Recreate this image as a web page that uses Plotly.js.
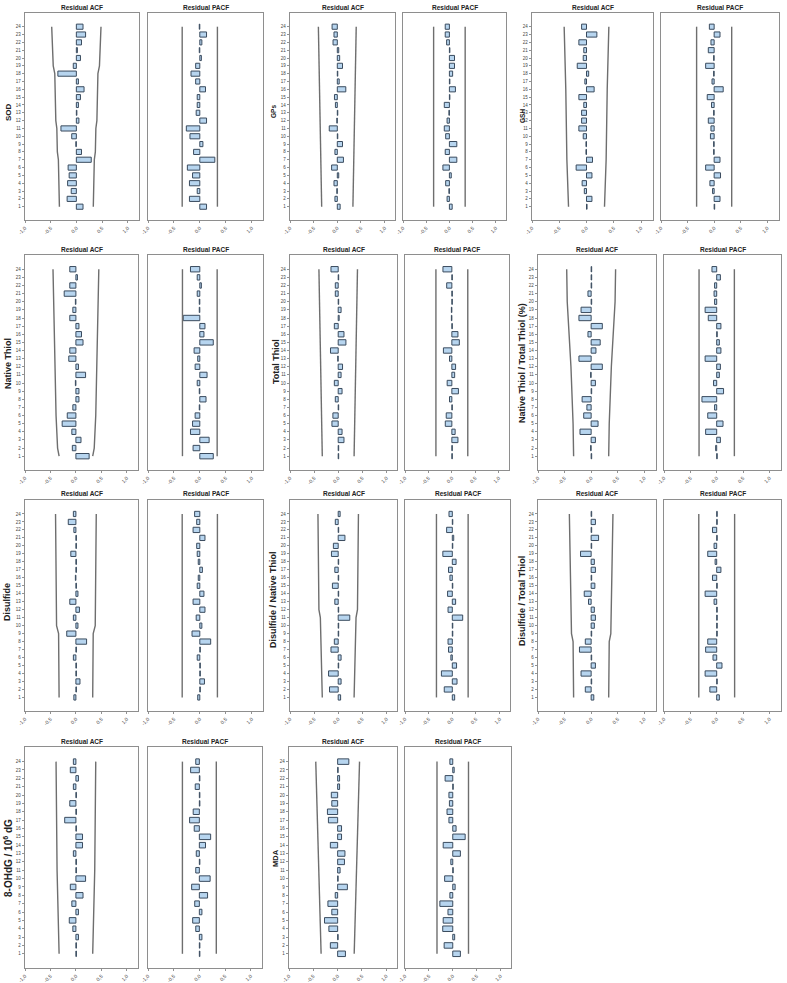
<!DOCTYPE html>
<html>
<head>
<meta charset="utf-8">
<script src="https://cdn.plot.ly/plotly-3.0.1.min.js"></script>
<style>
html,body{margin:0;padding:0;background:#fff;}
#chart{width:787px;height:983px;}
</style>
</head>
<body>
<div id="chart"></div>
<script>
// ---------------- DATA (lag 1 .. 24) ----------------
const lags = [1,2,3,4,5,6,7,8,9,10,11,12,13,14,15,16,17,18,19,20,21,22,23,24];
const lagLabels = ['1','2','3','4','5','6','7','8','9','10','11','12','13','14','15','16','17','18','19','20','21','22','23','24'];
const xTickVals = [-1, -0.5, 0, 0.5, 1];
const xTickText = ['-1,0', '-0,5', '0,0', '0,5', '1,0'];

const variableNames = ['SOD', 'GPs', 'GSH', 'Native Thiol', 'Total Thiol', 'Native Thiol / Total Thiol (%)',
  'Disulfide', 'Disulfide / Native Thiol', 'Disulfide / Total Thiol', '8-OHdG / 10<sup>6</sup> dG', 'MDA'];

const sodAcf  = [0.13,-0.18,-0.10,-0.17,-0.14,-0.16,0.29,0.10,-0.01,-0.09,-0.30,0.05,0.01,0.04,0.08,0.15,0.04,-0.36,-0.06,0.08,0.02,0.10,0.18,0.13];
const sodPacf = [0.13,-0.20,-0.05,-0.20,-0.14,-0.24,0.29,-0.12,0.06,-0.19,-0.26,0.13,-0.07,-0.05,-0.05,0.11,-0.08,-0.17,-0.08,0.03,-0.01,0.04,0.13,-0.01];
const gpsAcf  = [0.06,-0.05,-0.01,-0.07,0.03,-0.12,0.13,-0.05,0.11,0.01,-0.17,-0.01,0.01,-0.04,-0.06,0.18,0.04,0.01,0.11,0.05,0.03,-0.09,-0.07,-0.11];
const gpsPacf = [0.06,-0.05,-0.01,-0.08,0.04,-0.14,0.16,-0.09,0.16,-0.08,-0.11,-0.05,-0.01,-0.11,0.01,0.13,0.01,0.07,0.11,0.11,0.01,-0.06,-0.09,-0.09];
const gshAcf  = [0.01,0.10,-0.04,-0.08,0.10,-0.19,0.11,-0.01,-0.01,-0.06,-0.14,-0.09,-0.09,-0.05,-0.14,0.14,-0.03,0.04,-0.17,-0.06,-0.05,-0.14,0.19,-0.09];
const gshPacf = [0.01,0.11,-0.03,-0.08,0.12,-0.16,0.11,-0.01,-0.01,-0.07,-0.06,-0.11,-0.01,-0.05,-0.13,0.17,-0.04,-0.01,-0.16,-0.01,-0.11,-0.06,0.11,-0.09];
const ntAcf   = [0.26,-0.07,0.10,-0.08,-0.27,-0.17,-0.06,0.06,0.06,-0.01,0.19,0.05,-0.14,-0.12,0.14,0.11,0.06,-0.12,-0.06,-0.01,-0.23,-0.12,0.03,-0.12];
const ntPacf  = [0.26,-0.13,0.18,-0.18,-0.14,-0.09,-0.01,0.12,-0.01,-0.05,0.14,-0.09,-0.04,-0.11,0.26,0.08,0.10,-0.32,-0.01,-0.01,-0.05,0.03,-0.05,-0.18];
const ttAcf   = [0.01,0.01,0.12,0.08,-0.13,-0.11,0.01,-0.06,0.08,-0.08,0.06,0.09,-0.01,-0.16,0.16,0.12,-0.08,0.02,0.06,0.01,-0.06,-0.06,0.01,-0.15];
const ttPacf  = [0.01,0.01,0.13,0.07,-0.14,-0.12,0.01,-0.05,0.14,-0.10,0.06,0.08,-0.05,-0.18,0.16,0.13,0.01,-0.01,-0.01,0.01,0.01,-0.11,0.01,-0.19];
const nttAcf  = [0.01,-0.01,0.08,-0.21,0.13,-0.14,-0.08,-0.17,0.01,0.08,-0.01,0.21,-0.23,0.09,0.17,-0.06,0.21,-0.23,-0.19,0.01,-0.06,0.01,0.01,0.01];
const nttPacf = [0.01,-0.02,0.07,-0.21,0.12,-0.17,-0.04,-0.28,0.13,-0.06,0.05,0.07,-0.22,0.08,0.05,0.01,0.08,-0.16,-0.22,-0.04,-0.05,-0.04,0.07,-0.09];
const dsAcf   = [-0.04,0.01,0.08,0.01,0.01,-0.05,0.01,0.21,-0.18,0.04,-0.05,0.07,-0.12,0.04,0.01,-0.01,0.01,0.01,-0.10,0.01,0.01,-0.04,-0.15,-0.05];
const dsPacf  = [-0.04,0.01,0.09,0.01,0.01,-0.05,0.01,0.21,-0.15,0.04,-0.07,0.10,-0.13,0.08,-0.05,-0.03,0.05,-0.03,-0.05,-0.06,0.10,-0.13,-0.06,-0.10];
const dntAcf  = [0.05,-0.18,0.06,-0.20,0.01,0.06,-0.15,-0.08,0.01,0.01,0.24,0.01,-0.07,0.01,-0.12,0.01,-0.07,0.01,-0.14,-0.10,0.14,0.01,-0.06,0.04];
const dntPacf = [0.05,-0.17,0.10,-0.23,0.09,-0.03,-0.08,-0.09,0.01,0.01,0.22,-0.09,0.07,-0.10,0.01,-0.05,-0.08,0.08,-0.20,0.01,0.03,-0.12,0.01,-0.07];
const dttAcf  = [0.05,-0.11,0.01,-0.19,0.08,0.01,-0.22,-0.11,0.01,0.06,0.08,0.06,-0.05,-0.13,0.07,0.01,0.08,0.06,-0.20,0.01,0.14,0.01,0.08,0.01];
const dttPacf = [0.05,-0.13,0.01,-0.22,0.10,-0.07,-0.21,-0.17,0.01,0.01,0.01,0.01,-0.05,-0.22,0.01,-0.08,0.08,-0.03,-0.17,-0.05,0.01,-0.08,0.01,0.01];
const ohdgAcf = [0.01,0.01,0.05,-0.06,-0.13,0.05,-0.08,0.14,-0.11,0.19,0.01,0.01,-0.05,0.13,0.13,0.01,-0.22,0.01,-0.12,0.01,-0.05,0.05,-0.11,-0.05];
const ohdgPacf= [0.01,0.01,0.05,-0.07,-0.13,0.05,-0.09,0.16,-0.15,0.21,-0.07,0.01,-0.06,0.12,0.22,-0.10,-0.19,-0.12,0.01,0.01,-0.08,0.01,-0.17,-0.07];
const mdaAcf  = [0.16,-0.15,0.01,-0.18,-0.27,-0.12,-0.20,-0.05,0.20,0.01,0.05,0.14,0.15,-0.15,0.08,0.08,-0.19,-0.21,-0.12,-0.13,0.04,0.04,0.01,0.23];
const mdaPacf = [0.16,-0.18,0.04,-0.21,-0.20,-0.10,-0.27,-0.06,0.05,-0.17,0.01,-0.04,0.16,-0.20,0.26,0.07,-0.08,-0.12,-0.07,-0.08,0.01,-0.16,0.03,-0.06];

// ACF confidence limits (read at a few lags, symmetric)
const sodCiLag  = [1,7,8,11,12,18,19,24];   const sodCi  = [0.33,0.35,0.37,0.38,0.40,0.42,0.45,0.48];
const gpsCiLag  = [1,12,17,24];             const gpsCi  = [0.33,0.36,0.38,0.40];
const gshCiLag  = [1,7,16,24];              const gshCi  = [0.33,0.36,0.38,0.41];
const ntCiLag   = [1,2,6,12,22,24];         const ntCi   = [0.33,0.36,0.39,0.41,0.44,0.45];
const ttCiLag   = [1,15,24];                const ttCi   = [0.33,0.37,0.40];
const nttCiLag  = [1,5,12,18,20,24];        const nttCi  = [0.33,0.34,0.38,0.43,0.45,0.46];
const dsCiLag   = [1,9,10,24];              const dsCi   = [0.33,0.34,0.38,0.40];
const dntCiLag  = [1,11,12,24];             const dntCi  = [0.33,0.37,0.40,0.42];
const dttCiLag  = [1,8,9,24];               const dttCi  = [0.33,0.34,0.37,0.41];
const ohdgCiLag = [1,10,11,24];             const ohdgCi = [0.33,0.36,0.37,0.39];
const mdaCiLag  = [1,5,10,17,24];           const mdaCi  = [0.34,0.36,0.39,0.425,0.45];
// PACF confidence limits (constant)
const pacfLimits = [0.34,0.34,0.33,0.335,0.34,0.335,0.34,0.335,0.34,0.33,0.33];

const acfSeries  = [sodAcf, gpsAcf, gshAcf, ntAcf, ttAcf, nttAcf, dsAcf, dntAcf, dttAcf, ohdgAcf, mdaAcf];
const pacfSeries = [sodPacf, gpsPacf, gshPacf, ntPacf, ttPacf, nttPacf, dsPacf, dntPacf, dttPacf, ohdgPacf, mdaPacf];
const ciLagSeries = [sodCiLag, gpsCiLag, gshCiLag, ntCiLag, ttCiLag, nttCiLag, dsCiLag, dntCiLag, dttCiLag, ohdgCiLag, mdaCiLag];
const ciSeries    = [sodCi, gpsCi, gshCi, ntCi, ttCi, nttCi, dsCi, dntCi, dttCi, ohdgCi, mdaCi];

// ---------------- GEOMETRY (pixels) ----------------
const W = 787, H = 983;
const rowBoxes = [[13,220],[255,470],[500,711],[747,968]];
const colBoxes = [
  [[25,139,148,263],[290,395,403,506],[532,653,661,779]],
  [[25,138,148,263],[290,397,405,509],[538,656,664,781]],
  [[25,138,148,263],[290,397,405,510],[538,656,664,781]],
  [[25,138,148,262],[289,397,405,511]]
];
const labelPos = [ // x, y, size
  [8,112,8],[273,112,6.5],[522,116,6.5],
  [8,364,9],[276,362,9],[522,363,9],
  [7,602,9],[273,600,9],[522,601,9],
  [8,858,10],[275,858,7.5]
];

const FONT = 'Liberation Sans, Arial, Helvetica, sans-serif';
const px = x => x / W;
const py = y => 1 - y / H;

const traces = [];
const layout = {
  width: W, height: H,
  margin: {l:0, r:0, t:0, b:0},
  paper_bgcolor: '#ffffff', plot_bgcolor: '#ffffff',
  showlegend: false,
  font: {family: FONT, color: '#333'},
  annotations: []
};

let axisIndex = 0;
function addPanel(values, isAcf, ciLag, ci, pacfLim, xl, xr, yt, yb) {
  axisIndex++;
  const ax = axisIndex === 1 ? '' : String(axisIndex);
  const xa = 'x' + ax, ya = 'y' + ax;
  traces.push({
    type: 'bar', orientation: 'h', x: values, y: lags, width: 0.66,
    xaxis: xa, yaxis: ya,
    marker: {color: '#b7d5ef', line: {color: '#3a4b5e', width: 1}},
    hoverinfo: 'none'
  });
  let upX, upY;
  if (isAcf) { upX = ci; upY = ciLag; }
  else { upX = [pacfLim, pacfLim]; upY = [lags[0], lags[lags.length - 1]]; }
  [1, -1].forEach(s => {
    traces.push({
      type: 'scatter', mode: 'lines', x: upX.map(v => s * v), y: upY,
      xaxis: xa, yaxis: ya, line: {color: '#6e6e6e', width: 1.4}, hoverinfo: 'none'
    });
  });
  layout['xaxis' + ax] = {
    domain: [px(xl), px(xr)], anchor: ya, range: [-1, 1.22],
    tickvals: xTickVals, ticktext: xTickText, tickangle: -45,
    tickfont: {size: 5, color: '#444', family: FONT},
    ticks: 'outside', ticklen: 2, tickcolor: '#777', tickwidth: 0.8,
    showgrid: false, zeroline: false, showline: true, mirror: true,
    linecolor: '#8e8e8e', linewidth: 1.3, fixedrange: true
  };
  layout['yaxis' + ax] = {
    domain: [py(yb), py(yt)], anchor: xa, range: [-0.7, 25.75],
    tickvals: lags, ticktext: lagLabels,
    showticklabels: isAcf, ticks: isAcf ? 'outside' : '', ticklen: 2, tickcolor: '#777', tickwidth: 0.8,
    tickfont: {size: 4.5, color: '#444', family: FONT},
    showgrid: false, zeroline: false, showline: true, mirror: true,
    linecolor: '#8e8e8e', linewidth: 1.3, fixedrange: true
  };
  layout.annotations.push({
    xref: 'paper', yref: 'paper', x: px((xl + xr) / 2), y: py(yt - 6),
    xanchor: 'center', yanchor: 'middle', showarrow: false,
    text: '<b>' + (isAcf ? 'Residual ACF' : 'Residual PACF') + '</b>',
    font: {size: 6.5, color: '#222', family: FONT}
  });
}

let v = 0;
rowBoxes.forEach((rb, r) => {
  colBoxes[r].forEach((cb, c) => {
    addPanel(acfSeries[v], true, ciLagSeries[v], ciSeries[v], null, cb[0], cb[1], rb[0], rb[1]);
    addPanel(pacfSeries[v], false, null, null, pacfLimits[v], cb[2], cb[3], rb[0], rb[1]);
    const lp = labelPos[v];
    layout.annotations.push({
      xref: 'paper', yref: 'paper', x: px(lp[0]), y: py(lp[1]),
      xanchor: 'center', yanchor: 'middle', showarrow: false, textangle: -90,
      text: '<b>' + variableNames[v] + '</b>',
      font: {size: lp[2], color: '#222', family: FONT}
    });
    v++;
  });
});

Plotly.newPlot('chart', traces, layout, {displayModeBar: false, staticPlot: true});
</script>
</body>
</html>
